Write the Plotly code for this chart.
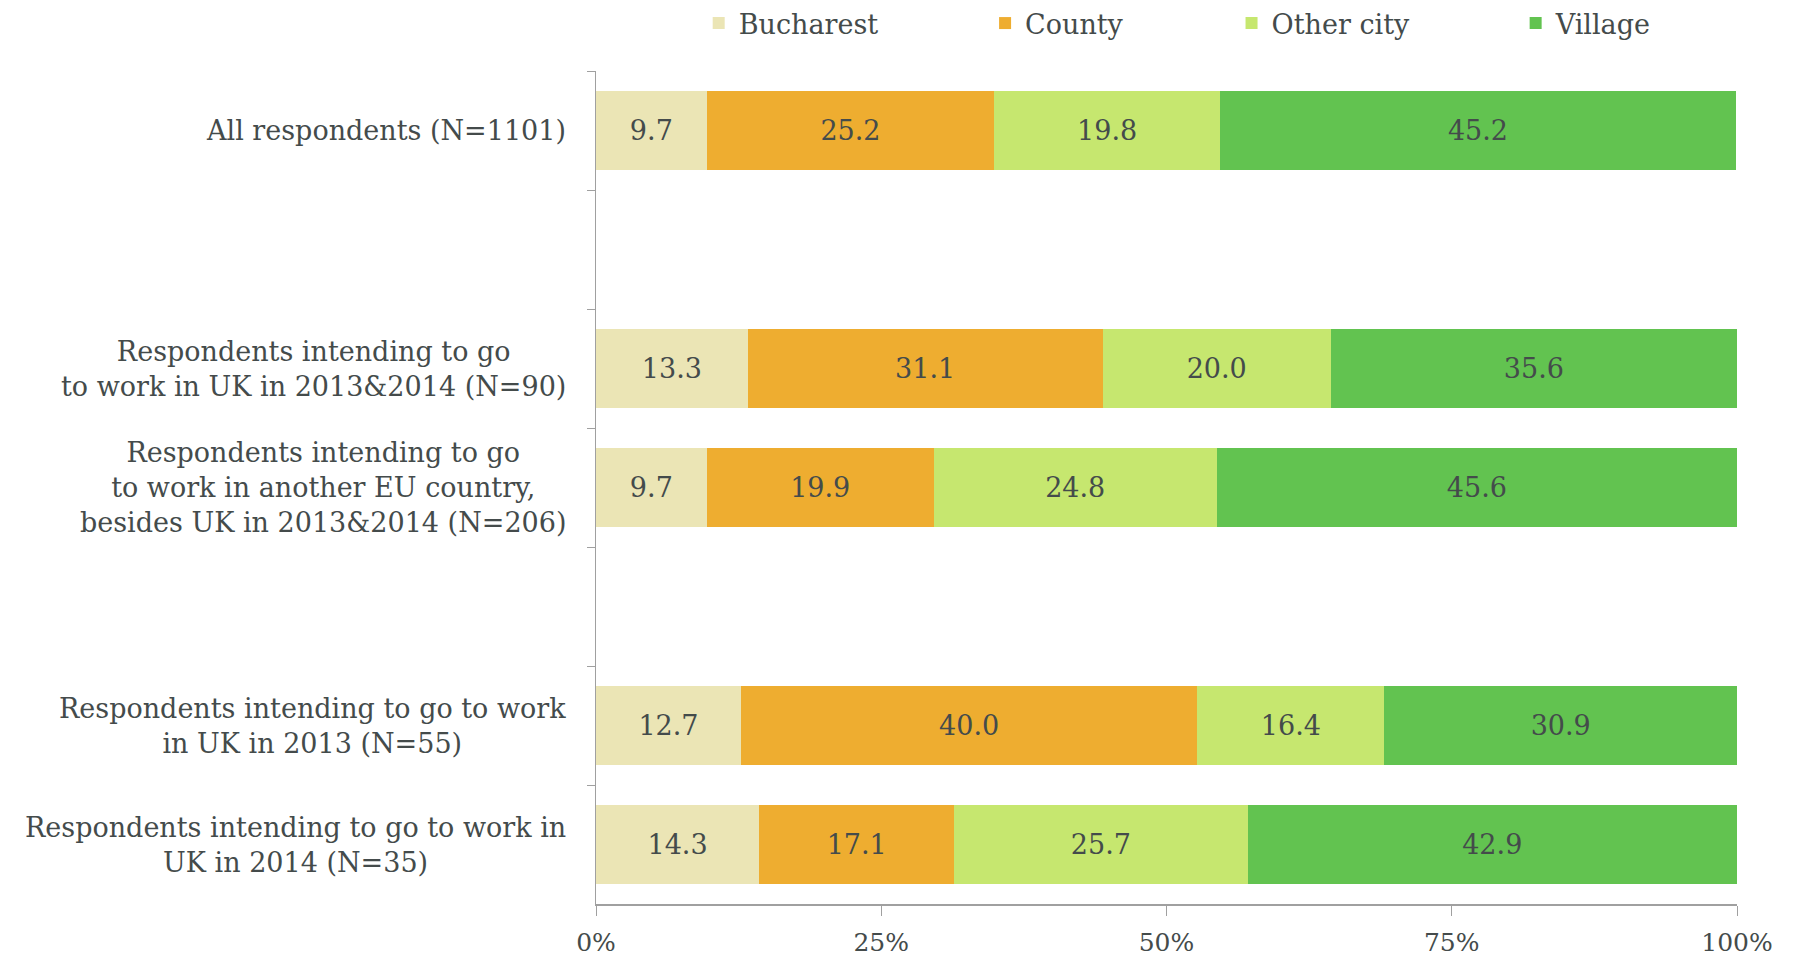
import plotly.graph_objects as go

# rows from top to bottom; None marks the empty spacer rows
groups = ['All respondents (N=1101)',
          None,
          'Respondents intending to go<br>to work in UK in 2013&2014 (N=90)',
          'Respondents intending to go<br>to work in another EU country,<br>besides UK in 2013&2014 (N=206)',
          None,
          'Respondents intending to go to work<br>in UK in 2013 (N=55)',
          'Respondents intending to go to work in<br>UK in 2014 (N=35)']

bucharest = [9.7, None, 13.3, 9.7, None, 12.7, 14.3]
county = [25.2, None, 31.1, 19.9, None, 40.0, 17.1]
other_city = [19.8, None, 20.0, 24.8, None, 16.4, 25.7]
village = [45.2, None, 35.6, 45.6, None, 30.9, 42.9]

series = [('Bucharest', bucharest, '#EBE5B5'),
          ('County', county, '#EEAD30'),
          ('Other city', other_city, '#C6E76F'),
          ('Village', village, '#62C350')]

FONT = 'DejaVu Serif'
TXT = '#444B4B'

keys = ['row%d' % i for i in range(len(groups))]
legend_ids = ['legend', 'legend2', 'legend3', 'legend4']
legend_x = [0.090, 0.341, 0.557, 0.806]

fig = go.Figure()
for (name, vals, col), lg in zip(series, legend_ids):
    fig.add_trace(go.Bar(
        y=keys, x=vals, name=name, orientation='h', legend=lg,
        showlegend=True,
        marker=dict(color=col, line=dict(width=0)),
        text=[None if v is None else '%.1f' % v for v in vals],
        textposition='inside', insidetextanchor='middle',
        textfont=dict(family=FONT, size=27, color=TXT),
        hoverinfo='x+name',
    ))

for k, g in zip(keys, groups):
    if g is None:
        continue
    fig.add_annotation(x=0, y=k, xref='paper', yref='y', text=g,
                       xanchor='right', yanchor='middle', align='center',
                       xshift=-28, showarrow=False,
                       font=dict(family=FONT, size=27, color=TXT))

fig.update_layout(
    barmode='stack', bargap=0.33,
    width=1795, height=961, showlegend=True,
    margin=dict(l=588, r=66, t=63, b=65, autoexpand=False),
    plot_bgcolor='white', paper_bgcolor='white',
    font=dict(family=FONT, size=26, color=TXT),
    uniformtext=dict(mode=False),
)
for lg, lx in zip(legend_ids, legend_x):
    fig.update_layout({lg: dict(orientation='h', x=lx, xanchor='left', y=1.057,
                                yanchor='middle', itemwidth=30,
                                font=dict(family=FONT, size=27, color=TXT),
                                bgcolor='rgba(0,0,0,0)')})

fig.update_xaxes(range=[0, 100], tickvals=[0, 25, 50, 75, 100],
                 ticktext=['0%', '25%', '50%', '75%', '100%'],
                 showgrid=False, zeroline=False, showline=True,
                 linecolor='#A0A0A0', linewidth=2, ticks='outside',
                 ticklen=10, tickcolor='#A0A0A0', tickwidth=1,
                 ticklabelstandoff=5,
                 tickfont=dict(family=FONT, size=25, color=TXT))
fig.update_yaxes(categoryorder='array', categoryarray=keys, autorange='reversed',
                 showticklabels=False, tickson='boundaries', ticks='outside',
                 ticklen=8, tickcolor='#A0A0A0', showline=True,
                 linecolor='#A0A0A0', linewidth=1, showgrid=False)

fig.write_html('out.html')
